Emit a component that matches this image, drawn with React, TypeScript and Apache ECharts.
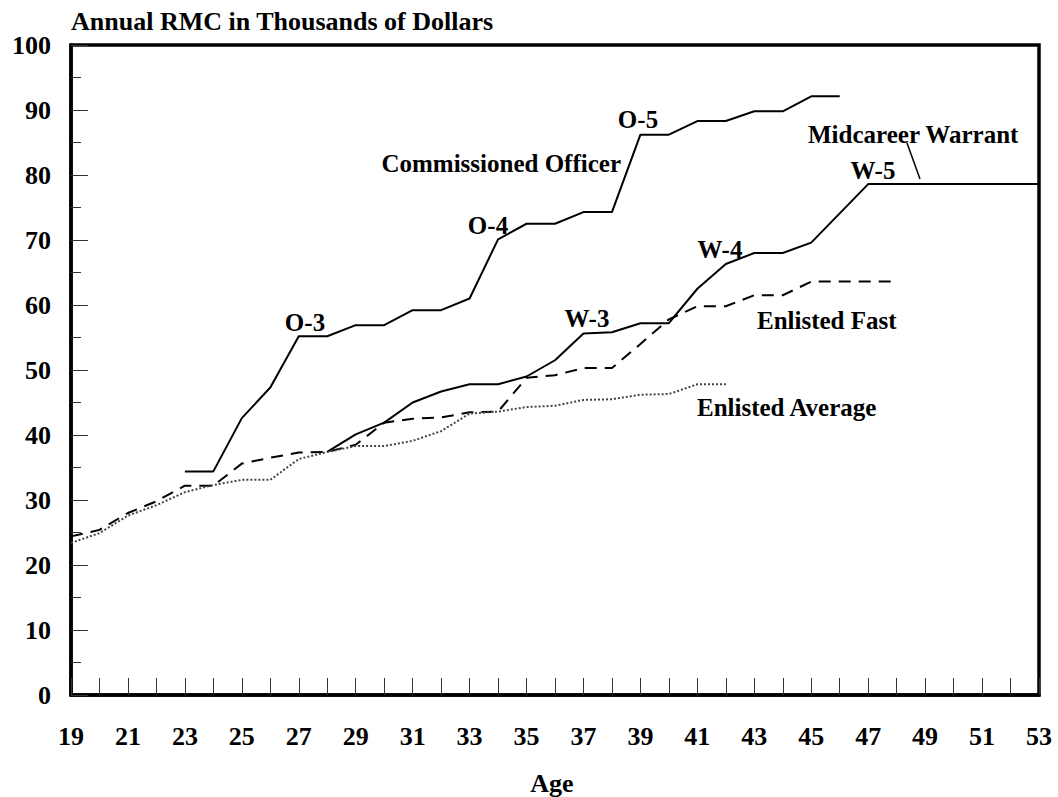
import React, { useEffect, useRef } from "react";
import * as echarts from "echarts";

const officerAges = [23, 24, 25, 26, 27, 28, 29, 30, 31, 32, 33, 34, 35, 36, 37, 38, 39, 40, 41, 42, 43, 44, 45, 46];
const officerValues = [34.4, 34.4, 42.6, 47.3, 55.2, 55.2, 56.9, 56.9, 59.2, 59.2, 61.0, 70.1, 72.5, 72.5, 74.3, 74.3, 86.2, 86.2, 88.3, 88.3, 89.8, 89.8, 92.1, 92.1];

const warrantAges = [28, 29, 30, 31, 32, 33, 34, 35, 36, 37, 38, 39, 40, 41, 42, 43, 44, 45, 46, 47, 48, 49, 50, 51, 52, 53];
const warrantValues = [37.4, 40.1, 41.9, 45.0, 46.7, 47.8, 47.8, 49.0, 51.5, 55.6, 55.8, 57.2, 57.2, 62.5, 66.3, 68.0, 68.0, 69.6, 74.1, 78.6, 78.6, 78.6, 78.6, 78.6, 78.6, 78.6];

const fastAges = [19, 20, 21, 22, 23, 24, 25, 26, 27, 28, 29, 30, 31, 32, 33, 34, 35, 36, 37, 38, 39, 40, 41, 42, 43, 44, 45, 46, 47, 48];
const fastValues = [24.4, 25.4, 28.0, 29.8, 32.2, 32.2, 35.6, 36.5, 37.3, 37.4, 38.5, 41.9, 42.5, 42.7, 43.5, 43.6, 48.8, 49.2, 50.3, 50.3, 54.0, 57.8, 59.8, 59.8, 61.5, 61.5, 63.6, 63.6, 63.6, 63.6];

const averageAges = [19, 20, 21, 22, 23, 24, 25, 26, 27, 28, 29, 30, 31, 32, 33, 34, 35, 36, 37, 38, 39, 40, 41, 42];
const averageValues = [23.4, 24.9, 27.6, 29.2, 31.2, 32.3, 33.1, 33.1, 36.3, 37.4, 38.3, 38.3, 39.1, 40.6, 43.3, 43.6, 44.3, 44.5, 45.4, 45.5, 46.2, 46.3, 47.8, 47.8];

const xMin = 19;
const xMax = 53;
const yMin = 0;
const yMax = 100;

const FONT = '"Liberation Serif", "Times New Roman", serif';

function pairs(xs: number[], ys: number[]) {
  return xs.map((x, i) => [x, ys[i]]);
}

function txt(text: string, x: number, y: number, align: string = "center", size = 25) {
  return {
    type: "text",
    x,
    y,
    style: {
      text,
      fontFamily: FONT,
      fontWeight: "bold",
      fontSize: size,
      fill: "#000",
      align,
      verticalAlign: "middle",
    },
  };
}

export default function App() {
  const ref = useRef<HTMLDivElement>(null);
  useEffect(() => {
    if (!ref.current) return;
    const chart = echarts.init(ref.current, null, { renderer: "svg" });
    const lineBase = { type: "line", symbol: "none", silent: true };
    chart.setOption({
      animation: false,
      backgroundColor: "#fff",
      grid: {
        left: 71,
        right: 19,
        top: 45,
        bottom: 102,
        show: true,
        borderColor: "#000",
        borderWidth: 3.5,
      },
      xAxis: {
        type: "value",
        min: xMin,
        max: xMax,
        interval: 1,
        splitLine: { show: false },
        axisLine: { show: true, lineStyle: { color: "#000", width: 3.5 } },
        axisTick: { show: true, inside: true, length: 17, lineStyle: { color: "#333", width: 1 } },
        axisLabel: {
          color: "#000",
          fontFamily: FONT,
          fontWeight: "bold",
          fontSize: 26,
          margin: 28,
          formatter: (v: number) => (v % 2 === 1 ? String(v) : ""),
        },
      },
      yAxis: {
        type: "value",
        min: yMin,
        max: yMax,
        interval: 10,
        splitLine: { show: false },
        axisLine: { show: true, lineStyle: { color: "#000", width: 3.5 } },
        axisTick: { show: true, inside: true, length: 17, lineStyle: { color: "#333", width: 1 } },
        minorTick: { show: true, splitNumber: 2, length: 10, lineStyle: { color: "#333", width: 1 } },
        axisLabel: {
          color: "#000",
          fontFamily: FONT,
          fontWeight: "bold",
          fontSize: 26,
          margin: 20,
        },
      },
      series: [
        { ...lineBase, name: "Commissioned Officer", data: pairs(officerAges, officerValues), lineStyle: { color: "#000", width: 2, type: "solid" } },
        { ...lineBase, name: "Midcareer Warrant", data: pairs(warrantAges, warrantValues), lineStyle: { color: "#000", width: 2, type: "solid" } },
        { ...lineBase, name: "Enlisted Fast", data: pairs(fastAges, fastValues), lineStyle: { color: "#000", width: 2, type: [12, 8] } },
        { ...lineBase, name: "Enlisted Average", data: pairs(averageAges, averageValues), lineStyle: { color: "#444", width: 2, type: [2, 2] } },
      ],
      graphic: [
        txt("Annual RMC in Thousands of Dollars", 71, 21, "left", 26),
        txt("Age", 552, 783, "center", 26),
        txt("Commissioned Officer", 621, 163, "right"),
        txt("O-3", 305, 322),
        txt("O-4", 488, 225),
        txt("O-5", 638, 119),
        txt("W-3", 587, 318),
        txt("W-4", 720, 249),
        txt("W-5", 873, 170),
        txt("Midcareer Warrant", 808, 134, "left"),
        txt("Enlisted Fast", 757, 320, "left"),
        txt("Enlisted Average", 697, 407, "left"),
        {
          type: "line",
          shape: { x1: 907, y1: 143, x2: 920, y2: 179 },
          style: { stroke: "#000", lineWidth: 1.5 },
        },
      ],
    });
    return () => chart.dispose();
  }, []);
  return (
    <div
      ref={ref}
      style={{ position: "fixed", left: 0, top: 0, width: 1058, height: 797, background: "#fff" }}
    />
  );
}
